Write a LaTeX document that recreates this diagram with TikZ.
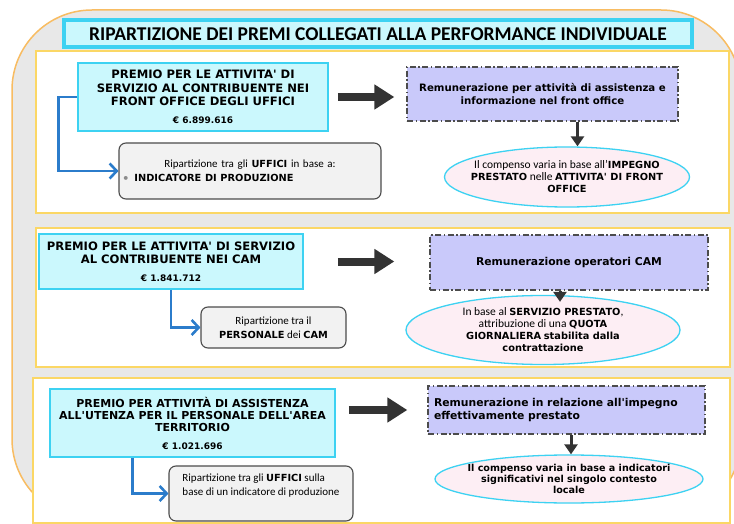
\documentclass[tikz,border=0pt]{standalone}
\usepackage{fontspec}
\setmainfont{Carlito}
\newfontfamily\verd{DejaVu Sans}
\usetikzlibrary{arrows.meta,shapes.geometric}
\definecolor{bggray}{HTML}{E8E8E8}
\definecolor{bgorange}{HTML}{F8BC62}
\definecolor{panelyel}{HTML}{FBD765}
\definecolor{cyanline}{HTML}{3DD2F2}
\definecolor{cyanfill}{HTML}{CBF8FD}
\definecolor{lavfill}{HTML}{C9C9FA}
\definecolor{pinkfill}{HTML}{FDEEF4}
\definecolor{arrblue}{HTML}{2B7CCB}
\definecolor{darkline}{HTML}{333333}
\newcommand\vb[1]{{\verd\bfseries\fontsize{9.8}{12}\selectfont #1}}
\newcommand\euro[1]{{\fontsize{9}{10}\selectfont #1}}
\tikzset{
  panel/.style={draw=panelyel,line width=2pt,fill=white},
  premio/.style={draw=cyanline,line width=1.5pt,fill=cyanfill,align=center,
    inner sep=2pt,font=\verd\bfseries\fontsize{11.6}{13.3}\selectfont},
  riparto/.style={draw=black!70,line width=1.1pt,fill=black!5,rounded corners=7pt,
    inner sep=3pt,font=\fontsize{11}{14}\selectfont},
  remun/.style={draw=black!70,line width=1.4pt,fill=lavfill,
    dash pattern=on 6pt off 2.5pt on 1.5pt off 2.5pt,
    font=\verd\bfseries\fontsize{10.8}{12.5}\selectfont},
  compenso/.style={ellipse,draw=cyanline,line width=1.3pt,fill=pinkfill,align=center,
    inner xsep=-60pt,inner ysep=-30pt,font=\fontsize{11.5}{12}\selectfont},
  blockarr/.style={draw=darkline,line width=8pt,-{Triangle[length=20pt,width=24pt]}},
  elbow/.style={draw=arrblue,line width=2.6pt,-{Straight Barb[length=7pt,width=15pt]}},
  downarr/.style={draw=darkline,line width=3pt,-{Triangle[length=10pt,width=13pt]}}
}
\begin{document}
\begin{tikzpicture}[x=1pt,y=-1pt]
  \useasboundingbox (0,0) rectangle (734,524);
  \clip (0,0) rectangle (734,524);
  % sfondo e riquadri
  \draw[fill=bggray,draw=bgorange,line width=1.5pt,rounded corners=80pt]
    (12,10) rectangle (741,519);
  \node[draw=cyanline,line width=4pt,fill=cyanfill,minimum width=628pt,minimum height=27pt,
    font=\bfseries\fontsize{19.5}{20}\selectfont] (titolo) at (378,34)
    {RIPARTIZIONE DEI PREMI COLLEGATI ALLA PERFORMANCE INDIVIDUALE};
  \draw[panel] (36,51) rectangle (729,213);
  \draw[panel] (36,228) rectangle (730,367);
  \draw[panel] (33,378) rectangle (730,523);

  % front office
  \node[premio,minimum width=250pt,minimum height=68pt] (A1) at (203,97)
    {PREMIO PER LE ATTIVITA' DI\\SERVIZIO AL CONTRIBUENTE NEI\\FRONT OFFICE DEGLI UFFICI\\[5pt]\euro{€ 6.899.616}};
  \node[riparto,minimum width=262pt,minimum height=56pt,text width=254pt] (B1) at (250,171)
    {\centering Ripartizione tra gli \vb{UFFICI} in base a:\par
     \raggedright\textcolor{black!45}{\textbullet}\hspace{6pt}\vb{INDICATORE DI PRODUZIONE}\par\vspace*{10pt}};
  \node[remun,minimum width=271pt,minimum height=54pt,align=center,
    font=\verd\bfseries\fontsize{10.2}{12.5}\selectfont] (C1) at (542.5,94)
    {Remunerazione per attività di assistenza e\\informazione nel front office};
  \node[compenso,minimum width=245pt,minimum height=60pt] (D1) at (567,177)
    {Il compenso varia in base all'\vb{IMPEGNO}\\\vb{PRESTATO} nelle \vb{ATTIVITA' DI FRONT}\\\vb{OFFICE}};
  \draw[elbow] (A1.west) -- ++(-19,0) |- (B1.west);
  \draw[blockarr,shorten <=9pt,shorten >=12pt] (A1.east) -- (A1.east -| C1.west);
  \draw[downarr] ([xshift=35pt]C1.south) -- ([xshift=35pt]C1.south |- D1.north);

  % CAM
  \node[premio,minimum width=264pt,minimum height=55pt] (A2) at (171,261.5)
    {PREMIO PER LE ATTIVITA' DI SERVIZIO\\AL CONTRIBUENTE NEI CAM\\[4pt]\euro{€ 1.841.712}};
  \node[riparto,minimum width=145pt,minimum height=41pt,align=center] (B2) at (273.5,327.5)
    {Ripartizione tra il\\\vb{PERSONALE} dei \vb{CAM}};
  \node[remun,minimum width=278pt,minimum height=55pt,align=center] (C2) at (569,262.5)
    {Remunerazione operatori CAM};
  \node[compenso,minimum width=274pt,minimum height=69pt] (D2) at (543,330)
    {In base al \vb{SERVIZIO PRESTATO},\\attribuzione di una \vb{QUOTA}\\\vb{GIORNALIERA} \vb{stabilita dalla}\\\vb{contrattazione}};
  \draw[elbow] (A2.south) |- (B2.west);
  \draw[blockarr,shorten <=34pt,shorten >=35pt] (A2.east) -- (A2.east -| C2.west);
  \draw[downarr,shorten >=-7pt] ([xshift=-9pt]C2.south) -- ([xshift=-9pt]C2.south |- D2.north);

  % area territorio
  \node[premio,minimum width=285pt,minimum height=68pt,font=\verd\bfseries\fontsize{11}{12}\selectfont] (A3) at (192.5,423)
    {PREMIO PER ATTIVITÀ DI ASSISTENZA\\ALL'UTENZA PER IL PERSONALE DELL'AREA\\TERRITORIO\\[6pt]\euro{€ 1.021.696}};
  \node[riparto,minimum width=184pt,minimum height=55pt,align=left] (B3) at (261,493.5)
    {Ripartizione tra gli \vb{UFFICI} sulla\\base di un indicatore di produzione\\[4pt]};
  \node[remun,minimum width=277pt,minimum height=48pt,align=left,text width=265pt] (C3) at (566.5,410)
    {Remunerazione in relazione all'impegno\\effettivamente prestato};
  \node[compenso,minimum width=268pt,minimum height=48pt,font=\verd\bfseries\fontsize{9.6}{11}\selectfont] (D3) at (569,479)
    {Il compenso varia in base a indicatori\\significativi nel singolo contesto\\locale};
  \draw[elbow] ([xshift=-60pt]A3.south) |- (B3.west);
  \draw[blockarr,shorten <=13pt,shorten >=20pt] (C3.west -| A3.east) -- (C3.west);
  \draw[downarr] ([xshift=4.5pt]C3.south) -- ([xshift=4.5pt]C3.south |- D3.north);
\end{tikzpicture}
\end{document}
